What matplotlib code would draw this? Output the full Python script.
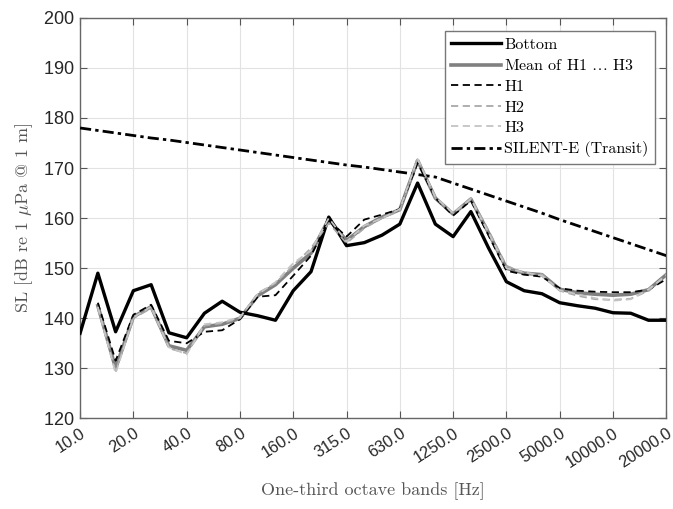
import numpy as np
import matplotlib
matplotlib.use("Agg")
import matplotlib.pyplot as plt
from matplotlib.ticker import FixedLocator, MultipleLocator

nan = np.nan
bands = [10, 12.5, 16, 20, 25, 31.5, 40, 50, 63, 80, 100, 125, 160, 200, 250, 315,
         400, 500, 630, 800, 1000, 1250, 1600, 2000, 2500, 3150, 4000, 5000, 6300,
         8000, 10000, 12500, 16000, 20000]

bottom = [137.0, 149.0, 137.3, 145.5, 146.7, 137.1, 136.1, 141.0, 143.4, 141.2,
          140.5, 139.6, 145.5, 149.3, 160.2, 154.5, 155.1, 156.6, 158.8, 167.0,
          158.8, 156.3, 161.3, 154.0, 147.3, 145.5, 144.9, 143.1, 142.5, 142.0,
          141.1, 141.0, 139.6, 139.6]
mean_h = [nan, 142.5, 130.0, 140.3, 142.3, 134.5, 133.6, 138.3, 138.8, 140.0,
          144.5, 146.7, 150.0, 153.0, 159.8, 155.5, 158.3, 160.2, 161.7, 171.5,
          164.0, 160.8, 163.8, 157.0, 150.0, 149.0, 148.7, 145.8, 145.1, 144.8,
          144.6, 144.8, 145.7, 148.7]
h1 = [nan, 143.1, 131.5, 140.7, 142.7, 135.5, 135.0, 137.3, 137.6, 139.8,
      144.3, 144.6, 148.5, 152.5, 159.5, 156.3, 159.7, 160.7, 161.8, 171.0,
      164.0, 160.5, 163.5, 156.5, 149.5, 148.7, 148.3, 146.0, 145.5, 145.3,
      145.2, 145.2, 145.7, 147.8]
h2 = [nan, 142.0, 129.5, 140.0, 142.0, 134.0, 133.0, 138.5, 139.0, 140.0,
      145.0, 147.0, 150.5, 154.0, 159.0, 155.0, 158.0, 160.0, 161.5, 172.0,
      164.0, 161.0, 164.0, 157.5, 150.5, 149.0, 148.8, 145.5, 144.5, 143.8,
      143.7, 143.9, 145.5, 148.8]
h3 = [nan, 142.3, 129.0, 140.2, 142.3, 134.2, 132.8, 138.8, 139.2, 140.2,
      144.8, 147.2, 151.0, 153.5, 160.0, 155.3, 158.5, 160.0, 161.8, 171.8,
      164.2, 161.0, 163.8, 157.0, 150.0, 149.2, 148.5, 145.6, 144.8, 144.0,
      143.5, 143.8, 145.8, 148.5]
silent_e = [178.0, 177.5, 177.0, 176.5, 176.0, 175.6, 175.1, 174.6, 174.1, 173.6,
            173.1, 172.6, 172.1, 171.6, 171.1, 170.6, 170.2, 169.7, 169.2, 168.7,
            168.2, 167.0, 165.8, 164.6, 163.4, 162.2, 161.0, 159.7, 158.5, 157.3,
            156.1, 154.9, 153.7, 152.5]

tick_labels = ["10.0", "20.0", "40.0", "80.0", "160.0", "315.0", "630.0", "1250.0",
               "2500.0", "5000.0", "10000.0", "20000.0"]

plt.rcParams['mathtext.fontset'] = 'cm'
plt.rcParams['axes.formatter.use_mathtext'] = True

fig = plt.figure(figsize=(6.73, 5.09), dpi=100)
ax = fig.add_axes([0.119, 0.178, 0.871, 0.787])

x = np.arange(len(bands))
ax.plot(x, bottom, color='black', lw=2.4, label='Bottom', zorder=5)
ax.plot(x, mean_h, color='#808080', lw=2.6, label=r'Mean of H1 $\ldots$ H3', zorder=4)
ax.plot(x, h1, color='black', lw=1.3, ls=(0, (4, 2.5)), label='H1', zorder=6)
ax.plot(x, h2, color='#a8a8a8', lw=1.3, ls=(0, (4, 2.5)), label='H2', zorder=6)
ax.plot(x, h3, color='#c4c4c4', lw=1.3, ls=(0, (4, 2.5)), label='H3', zorder=6)
ax.plot(x, silent_e, color='black', lw=2.0, ls=(0, (4, 1.5, 1.2, 1.5)),
        label='SILENT-E (Transit)', zorder=5)

ax.set_xlim(0, len(bands) - 1)
ax.set_ylim(120, 200)
ax.xaxis.set_major_locator(FixedLocator(x[::3]))
ax.set_xticklabels(tick_labels, rotation=33, ha='right', rotation_mode='anchor',
                   fontfamily='Liberation Sans', fontsize=11.8, color='#262626')
ax.yaxis.set_major_locator(MultipleLocator(10))
for lab in ax.get_yticklabels():
    lab.set_fontfamily('Liberation Sans')
    lab.set_fontsize(13)
    lab.set_color('#262626')

ax.grid(True, color='#e2e2e2', lw=0.8)
ax.set_axisbelow(True)
ax.tick_params(direction='in', top=True, right=True, length=5, width=0.8,
               color='#555555')
ax.tick_params(axis='x', pad=5)
ax.tick_params(axis='y', pad=4)
for s in ax.spines.values():
    s.set_color('#666666')
    s.set_linewidth(1.0)

ax.set_xlabel('One-third octave bands [Hz]', fontfamily='cmr10', fontsize=13,
              color='#555555', labelpad=9)
ax.set_ylabel(r'SL [dB re 1 $\mu$Pa @ 1 m]', fontfamily='cmr10', fontsize=13,
              color='#555555', labelpad=6)

leg = ax.legend(loc='upper right', bbox_to_anchor=(0.994, 0.986), fancybox=False,
                framealpha=1, edgecolor='#777777', handlelength=3.1,
                handletextpad=0.2, labelspacing=0.4, borderpad=0.4,
                prop={'family': 'cmr10', 'size': 11.5})
leg.get_frame().set_linewidth(1.0)

fig.savefig('out.png', dpi=100)
